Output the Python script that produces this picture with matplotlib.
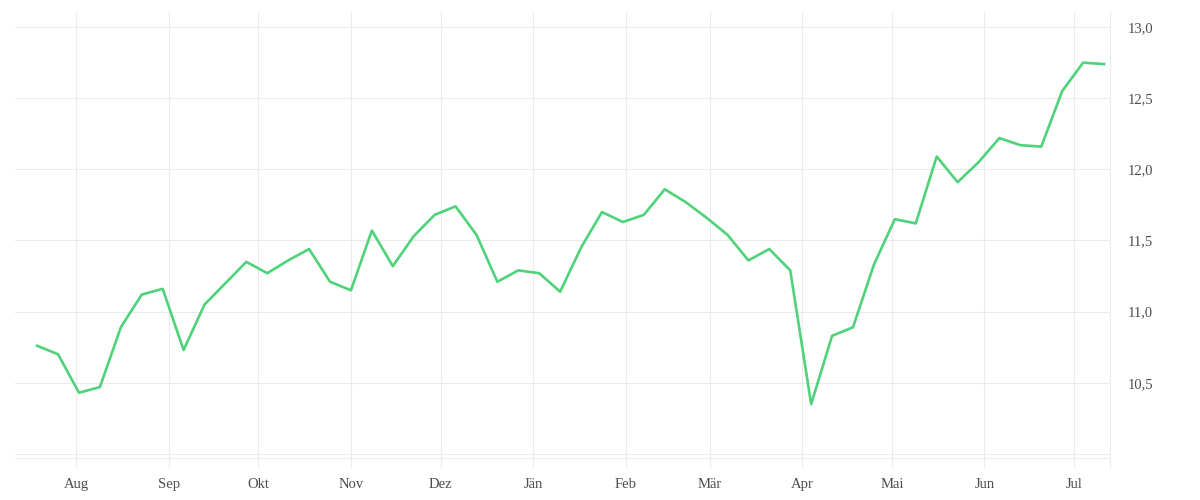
import matplotlib
matplotlib.use("Agg")
import matplotlib.pyplot as plt
import pandas as pd

# ---- data ----
start_date = "2022-07-19"
values = [10.76, 10.70, 10.43, 10.47, 10.89, 11.12, 11.16, 10.73, 11.05, 11.20,
          11.35, 11.27, 11.36, 11.44, 11.21, 11.15, 11.57, 11.32, 11.53, 11.68,
          11.74, 11.54, 11.21, 11.29, 11.27, 11.14, 11.45, 11.70, 11.63, 11.68,
          11.86, 11.77, 11.66, 11.54, 11.36, 11.44, 11.29, 10.35, 10.83, 10.89,
          11.33, 11.65, 11.62, 12.09, 11.91, 12.05, 12.22, 12.17, 12.16, 12.55,
          12.75, 12.74]
month_labels = ["Aug", "Sep", "Okt", "Nov", "Dez", "Jän", "Feb", "Mär",
                "Apr", "Mai", "Jun", "Jul"]
month_starts = ["2022-08-01", "2022-09-01", "2022-10-01", "2022-11-01",
                "2022-12-01", "2023-01-01", "2023-02-01", "2023-03-01",
                "2023-04-01", "2023-05-01", "2023-06-01", "2023-07-01"]
y_ticks = [10.5, 11.0, 11.5, 12.0, 12.5, 13.0]
y_tick_labels = ["10,5", "11,0", "11,5", "12,0", "12,5", "13,0"]

dates = pd.date_range(start_date, periods=len(values), freq="7D")

# ---- style ----
grid_color = "#ebebeb"
text_color = "#4d4d4d"
line_color = "#4ed27a"
font = ["Liberation Serif", "DejaVu Serif"]

fig = plt.figure(figsize=(12, 5), dpi=100)
ax = fig.add_axes([15/1200, 1 - 468/500, (1110 - 15)/1200, (468 - 12)/500])

ax.plot(dates, values, color=line_color, linewidth=1.9, zorder=3)

ax.set_xlim(pd.Timestamp("2022-07-11 14:00"), pd.Timestamp("2023-07-13"))
ax.set_ylim(9.901, 13.106)

ax.set_xticks(pd.to_datetime(month_starts))
ax.set_xticklabels(month_labels, family=font, fontsize=10.5, color=text_color)
ax.yaxis.tick_right()
ax.set_yticks(y_ticks)
ax.set_yticklabels(y_tick_labels, family=font, fontsize=10.5, color=text_color)
ax.tick_params(axis="x", length=0, pad=7)
ax.tick_params(axis="y", length=0, pad=13)

ax.grid(True, color=grid_color, linewidth=0.8, zorder=0)
ax.axhline(10.0, color=grid_color, linewidth=0.8, zorder=1)
ax.axhline(9.972, color=grid_color, linewidth=0.8, zorder=1)

for s in ["left", "top", "bottom"]:
    ax.spines[s].set_visible(False)
ax.spines["right"].set_color(grid_color)
ax.spines["right"].set_linewidth(0.8)

fig.savefig("out.png", dpi=100, facecolor="white")
